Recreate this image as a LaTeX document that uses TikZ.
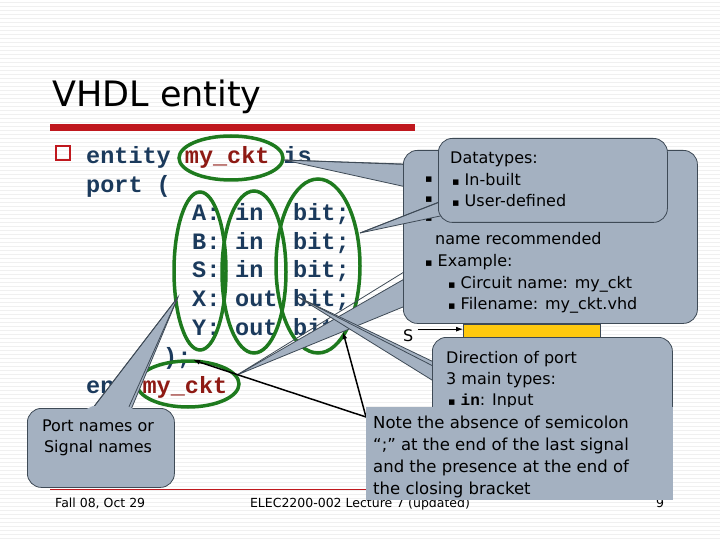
\documentclass[tikz,border=0pt]{standalone}
\usepackage{fontspec}
\usetikzlibrary{arrows.meta}
\setmainfont{DejaVu Sans}
\newfontfamily\codefont{Liberation Mono}
\definecolor{codeblue}{HTML}{1B3A5C}
\definecolor{codered}{HTML}{8E1A14}
\definecolor{ovalgreen}{HTML}{1E7A1E}
\definecolor{callfill}{HTML}{A4B1C1}
\definecolor{callline}{HTML}{3E4A56}
\definecolor{barred}{HTML}{C0181E}
\definecolor{boxyellow}{HTML}{FFC90E}
\newcommand{\bul}{{\fontsize{11}{11}\selectfont ▪}}
\begin{document}
\begin{tikzpicture}[x=1pt,y=-1pt,
  code/.style={anchor=base west,inner sep=0,font=\codefont\bfseries\fontsize{23.5}{24}\selectfont,text=codeblue},
  txt/.style={anchor=base west,inner sep=0,font=\fontsize{16}{16}\selectfont},
  ntxt/.style={anchor=base west,inner sep=0,font=\fontsize{16.5}{16.5}\selectfont},
  oval/.style={draw=ovalgreen,line width=3.5pt},
  call/.style={fill=callfill,draw=callline,line width=0.8pt},
  callbox/.style={call,rounded corners=14pt},
  arr/.style={-{Latex[length=7pt,width=5pt]},line width=1.5pt}]
\useasboundingbox (0,0) rectangle (720,540);
\fill[white] (0,0) rectangle (720,540);
\foreach \y in {2,6,...,538} \draw[black!6,line width=0.5pt] (0,\y) -- (720,\y);
% title
\node[anchor=base west,inner sep=0,font=\fontsize{35}{35}\selectfont] (title) at (52,107) {VHDL entity};
\fill[barred] (50,124) rectangle (415,131);
\draw[barred,line width=0.6pt] (50,489) -- (670,489);
% code
\draw[barred,line width=1.4pt] (56,146) rectangle (70,160);
\node[code] (l1) at (86,164) {entity \textcolor{codered}{my\_ckt} is};
\node[code] (l2) at (86,193) {port (};
\foreach \n/\d/\t/\yy in {A/in/bit;/221,B/in/bit;/249,S/in/bit;/277,X/out/bit;/306,Y/out/bit/335}{
  \node[code] at (192,\yy) {\n:};
  \node[code] at (235,\yy) {\d};
  \node[code] at (293,\yy) {\t};
}
\node[code] (l8) at (163,364) {);};
\node[code] (l9) at (86,393) {end \textcolor{codered}{my\_ckt}};
% ovals
\draw[oval] (231,158) ellipse [x radius=52,y radius=22];
\draw[oval] (200,271) ellipse [x radius=26,y radius=79];
\draw[oval] (254,272) ellipse [x radius=32,y radius=81];
\draw[oval] (318,266) ellipse [x radius=42,y radius=87];
\draw[oval] (188,384) ellipse [x radius=51,y radius=23];
% big callout
\fill[call] (284,160) -- (420,165) -- (420,190) -- cycle;
\fill[call] (237,375) -- (420,270) -- (420,300) -- cycle;
\node[callbox,minimum width=294pt,minimum height=173pt,anchor=north west] (big) at (403,150) {};
\draw[callline,line width=0.8pt] (284,160) -- (404,164) (237,375) -- (404,272);
\node[txt] at (425,183) {\bul};
\node[txt] at (425,203) {\bul};
\node[txt] at (425,222) {\bul};
\node[txt] at (435,244) {name recommended};
\node[txt] at (425,266) {\bul\ Example:};
\node[txt] at (448,288) {\bul\ Circuit name: my\_ckt};
\node[txt] at (448,309) {\bul\ Filename: my\_ckt.vhd};
% datatypes callout
\fill[call] (360,233) -- (445,200) -- (445,215) -- cycle;
\draw[callline,line width=0.8pt] (360,233) -- (439,202);
\node[callbox,minimum width=229pt,minimum height=84pt,anchor=north west] (dt) at (438,138) {};
\node[txt] at (450,164) {Datatypes:};
\node[txt] at (452,186) {\bul\ In-built};
\node[txt] at (452,207) {\bul\ User-defined};
% yellow box and S
\node[fill=boxyellow,draw=callline,minimum width=137pt,minimum height=22pt,anchor=north west,inner sep=0] (ybox) at (463,324) {};
\node[txt] (S) at (403,341) {S};
\draw[arr,line width=0.8pt] (S.east) ++(4,-6) coordinate (sa) -- (ybox.west|-sa);
% direction callout
\fill[call] (298,297) -- (440,365) -- (440,385) -- cycle;
\draw[callline,line width=0.8pt] (298,297) -- (433,366);
\node[callbox,minimum width=240pt,minimum height=90pt,anchor=north west] (dir) at (432,337) {};
\node[txt] at (446,363) {Direction of port};
\node[txt] at (446,384) {3 main types:};
\node[txt] at (448,405) {\bul\ {\codefont\bfseries in}: Input};
% port names callout
\fill[call] (178,297) -- (90,412) -- (130,412) -- cycle;
\node[callbox,minimum width=147pt,minimum height=79pt,anchor=north west] (pn) at (27,408) {};
\draw[callline,line width=0.8pt] (178,297) -- (92,409) (178,297) -- (128,409);
\fill[callfill] (93,406) -- (127,406) -- (140,412) -- (80,412) -- cycle;
\node[align=center,font=\fontsize{16}{21}\selectfont,inner sep=0] at (98,438) {Port names or\\Signal names};
% footer
\node[anchor=base west,inner sep=0,font=\fontsize{12.5}{12.5}\selectfont] (f1) at (55,507) {Fall 08, Oct 29};
\node[anchor=base,inner sep=0,font=\fontsize{12.5}{12.5}\selectfont] (f2) at (360,507) {ELEC2200-002 Lecture 7 (updated)};
\node[anchor=base,inner sep=0,font=\fontsize{12.5}{12.5}\selectfont] (f3) at (660,507) {9};
% note box
\coordinate (nt) at (366,417);
\draw[arr] (nt) -- (193,360);
\draw[arr] (nt) -- (343,332);
\node[call,minimum width=307pt,minimum height=93pt,anchor=north west,inner sep=0,draw=none] (note) at (366,407) {};
\node[ntxt] at (373,428) {Note the absence of semicolon};
\node[ntxt] at (373,450) {“;” at the end of the last signal};
\node[ntxt] at (373,472) {and the presence at the end of};
\node[ntxt] at (373,494) {the closing bracket};
\end{tikzpicture}
\end{document}
